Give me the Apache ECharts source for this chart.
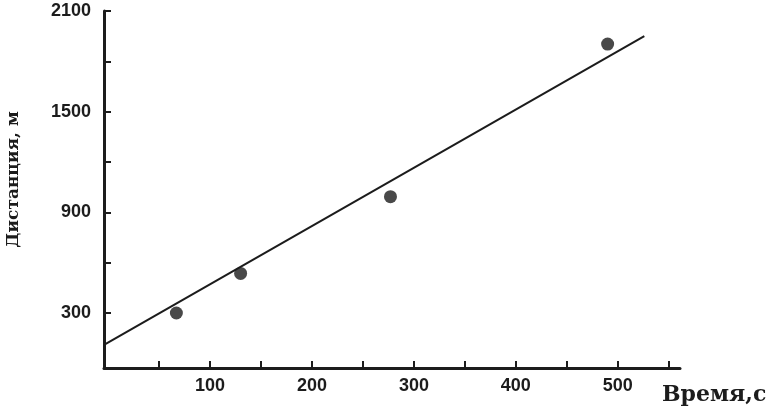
<!DOCTYPE html>
<html><head><meta charset="utf-8">
<script src="https://cdn.jsdelivr.net/npm/echarts@6/dist/echarts.min.js"></script>
<style>html,body{margin:0;padding:0;background:#fff}#c{width:777px;height:407px}</style>
</head><body><div id="c"></div>
<script>
const timeS = [67, 130, 277, 490];
const distanceM = [300, 536, 993, 1903];
const fitLineX = [-4, 526];
const fitLineY = [110, 1950];
const xTicks = [50, 100, 150, 200, 250, 300, 350, 400, 450, 500, 550];
const xLabels = [100, 200, 300, 400, 500];
const yTicks = [300, 600, 900, 1200, 1500, 1800, 2100];
const yLabels = [300, 900, 1500, 2100];

const ink = '#1c1c1c';
const chart = echarts.init(document.getElementById('c'));
chart.setOption({
  backgroundColor: '#fff',
  animation: false,
  grid: {left: 104, right: 97, top: 11, bottom: 39, containLabel: false, outerBoundsMode: 'none'},
  xAxis: {
    type: 'value', min: -4, max: 561,
    name: 'Время,с', nameLocation: 'end', nameGap: -18,
    nameTextStyle: {fontFamily: 'DejaVu Serif', fontWeight: 'bold', fontSize: 22, color: ink,
      align: 'left', verticalAlign: 'top', padding: [16, 0, 0, 0]},
    axisLine: {show: true, onZero: false, lineStyle: {color: ink, width: 3}},
    axisTick: {show: true, inside: true, length: 7, lineStyle: {color: ink, width: 2}, customValues: xTicks},
    axisLabel: {customValues: xLabels, margin: 9, fontFamily: 'Liberation Sans', fontWeight: 'bold', fontSize: 18, color: ink,
      formatter: v => String(v)},
    splitLine: {show: false}
  },
  yAxis: {
    type: 'value', min: -28, max: 2100,
    name: 'Дистанция, м', nameLocation: 'middle', nameGap: 82, nameRotate: 90,
    nameTextStyle: {fontFamily: 'DejaVu Serif', fontWeight: 'bold', fontSize: 17, color: ink, padding: [0, 0, 0, 20]},
    axisLine: {show: true, onZero: false, lineStyle: {color: ink, width: 3}},
    axisTick: {show: true, inside: true, length: 7, lineStyle: {color: ink, width: 2}, customValues: yTicks},
    axisLabel: {customValues: yLabels, margin: 13, fontFamily: 'Liberation Sans', fontWeight: 'bold', fontSize: 18, color: ink,
      formatter: v => String(v)},
    splitLine: {show: false}
  },
  series: [
    {
      type: 'line', data: fitLineX.map((x, i) => [x, fitLineY[i]]),
      symbol: 'none', lineStyle: {color: ink, width: 2}, z: 2
    },
    {
      type: 'scatter', data: timeS.map((x, i) => [x, distanceM[i]]),
      symbol: 'circle', symbolSize: 13, itemStyle: {color: ink}, z: 3
    }
  ]
});
</script></body></html>
